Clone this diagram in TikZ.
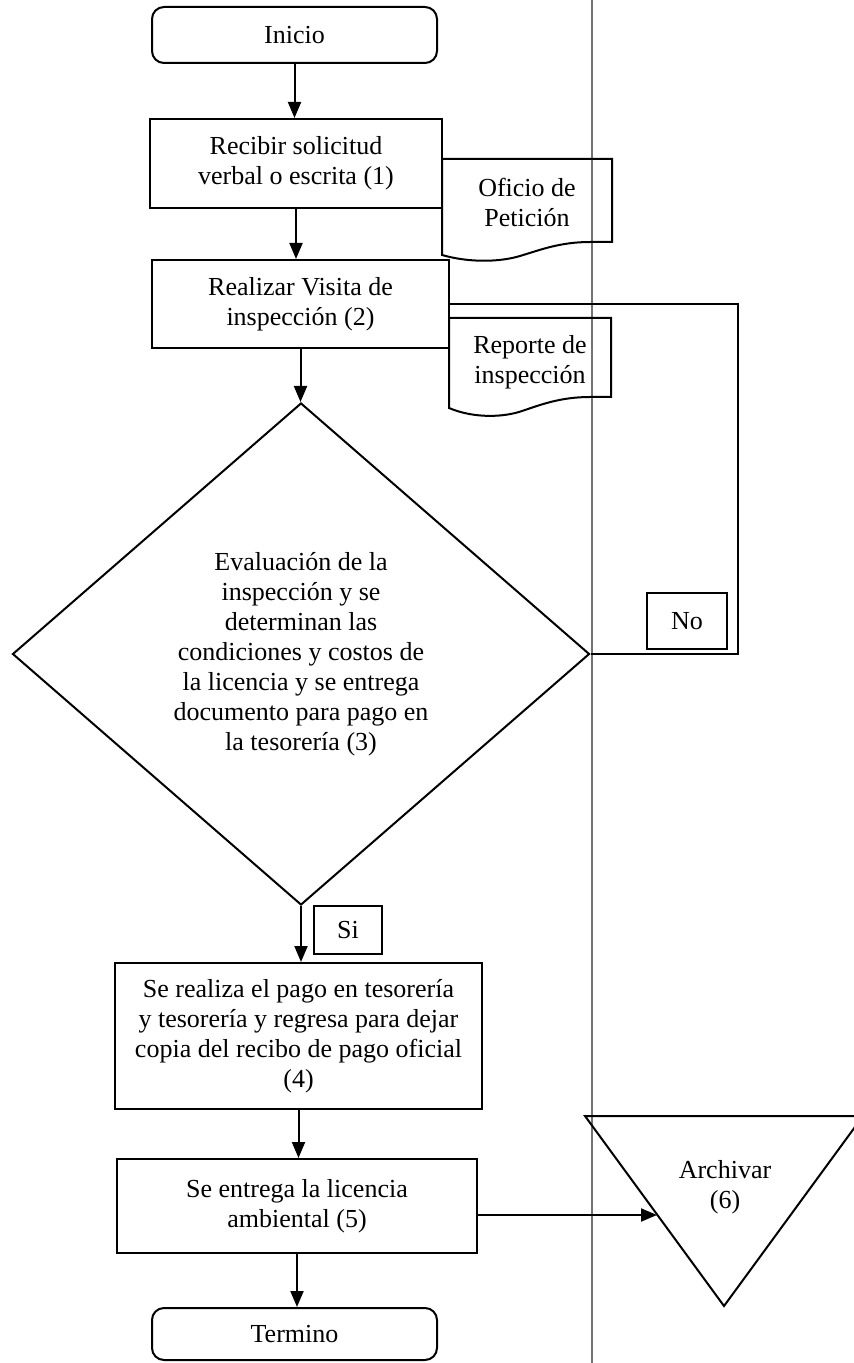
\documentclass[tikz,border=0pt]{standalone}
\usepackage{fontspec}
\setmainfont{Liberation Serif}
\usetikzlibrary{shapes.geometric,arrows.meta}
\begin{document}
\begin{tikzpicture}[x=0.5pt,y=-0.5pt,
        every node/.style={font=\fontsize{13}{15}\selectfont,align=center,inner sep=0pt},
        caja/.style={draw,line width=1pt,rectangle},
        terminal/.style={caja,rounded corners=6pt},
        decision/.style={draw,line width=1pt,diamond},
        linea/.style={line width=1pt},
        flecha/.style={linea,-{Triangle[length=8pt,width=6.5pt]}}]
        \useasboundingbox (0,0) rectangle (854,1363);
        \clip (0,0) rectangle (854,1363);
        %% carril
        \draw[black!55,line width=1.4pt] (592,0) -- (592,1363);
        %% pasos
        \node[terminal,minimum width=142.5pt,minimum height=28pt] (inicio) at (294.5,35) {Inicio};
        \node[caja,minimum width=146pt,minimum height=44.5pt] (recibir) at (296,163.5) {Recibir solicitud\\verbal o escrita (1)};
        \node[caja,minimum width=148.5pt,minimum height=44pt] (realizar) at (300.5,304) {Realizar Visita de\\inspección (2)};
        \node[decision,minimum width=288.5pt,minimum height=251pt] (eval) at (301,654) {Evaluación de la\\inspección y se\\determinan las\\condiciones y costos de\\la licencia y se entrega\\documento para pago en\\la tesorería (3)};
        \node[caja,minimum width=183.5pt,minimum height=73pt] (pago) at (298.5,1036) {Se realiza el pago en tesorería\\y tesorería y regresa para dejar\\copia del recibo de pago oficial\\(4)};
        \node[caja,minimum width=180pt,minimum height=47pt] (entrega) at (297,1206) {Se entrega la licencia\\ambiental (5)};
        \node[terminal,minimum width=142.5pt,minimum height=26pt] (termino) at (294.5,1334) {Termino};
        %% respuestas
        \node[caja,minimum width=40pt,minimum height=28pt] (no) at (687,621) {No};
        \node[caja,minimum width=34pt,minimum height=24pt] (si) at (348,930) {Si};
        %% documentos
        \draw[linea] (442,159) -- (612,159) -- (612,242) -- (590,242)
            .. controls (560,242) and (540,250) .. (520,256)
            .. controls (500,262) and (470,263) .. (442,255) -- cycle;
        \node (oficio) at (527,202) {Oficio de\\Petición};
        \draw[linea] (449,318) -- (611,318) -- (611,397) -- (590,397)
            .. controls (560,397) and (540,405) .. (522,411)
            .. controls (505,417) and (475,419) .. (449,408) -- cycle;
        \node (reporte) at (530,362) {Reporte de\\inspección};
        %% archivo
        \draw[linea] (585,1116) -- (863,1116) -- (724,1306) -- cycle;
        \node (archivar) at (725,1187) {Archivar\\(6)};
        \coordinate (archin) at (657,1215);
        \coordinate (retorno) at (738,654);
        %% conectores
        \draw[flecha] (inicio.south) -- (inicio.south |- recibir.north);
        \draw[flecha] (recibir.south) -- (recibir.south |- realizar.north);
        \draw[flecha] (realizar.south) -- (realizar.south |- eval.north);
        \draw[flecha] (eval.south) -- (eval.south |- pago.north);
        \draw[flecha] (pago.south) -- (pago.south |- entrega.north);
        \draw[flecha] (entrega.south) -- (entrega.south |- termino.north);
        \draw[linea] (realizar.east) -| (retorno) -- (eval.east);
        \draw[flecha] (entrega.east |- archin) -- (archin);
    \end{tikzpicture}
\end{document}
